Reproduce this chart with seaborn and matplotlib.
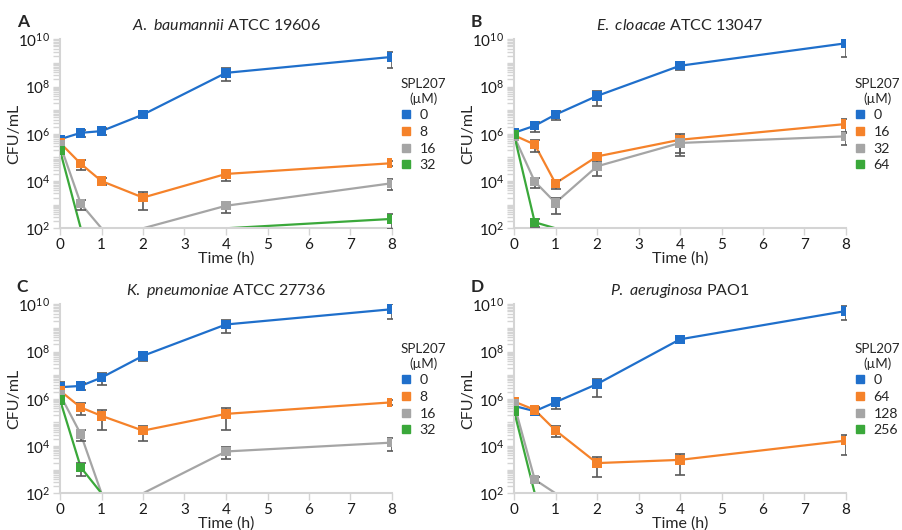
import numpy as np
import pandas as pd
import matplotlib
matplotlib.use("Agg")
import matplotlib.pyplot as plt
from matplotlib.lines import Line2D
from matplotlib.ticker import FixedLocator, NullFormatter
import seaborn as sns

nan = np.nan

# sampling times (h)
times = [0, 0.5, 1, 2, 4, 8]

# panel A: A. baumannii ATCC 19606
a_conc = ["0", "8", "16", "32"]
a_mean = [
    [5.9e5, 1.1e6, 1.3e6, 6.5e6, 3.8e8, 1.8e9],
    [4.2e5, 5.4e4, 1.0e4, 2.0e3, 2.0e4, 5.7e4],
    [3.6e5, 1.1e3, 100, 100, 9.0e2, 8.1e3],
    [2.0e5, 100, nan, nan, 100, 2.5e2],
]
a_err = [
    [1e5, 4e5, 4e5, 2e6, 2.1e8, 1.2e9],
    [5e4, 2.5e4, 3e3, 1.4e3, 1e4, 1.5e4],
    [5e4, 5e2, 0, 0, 4.5e2, 4e3],
    [5e4, 0, nan, nan, 0, 1.6e2],
]

# panel B: E. cloacae ATCC 13047
b_conc = ["0", "16", "32", "64"]
b_mean = [
    [1.1e6, 2.2e6, 6.5e6, 4.0e7, 7.6e8, 6.8e9],
    [8.7e5, 3.5e5, 8.0e3, 1.1e5, 5.6e5, 2.6e6],
    [8.0e5, 9.5e3, 1.2e3, 4.2e4, 4.1e5, 7.8e5],
    [9.5e5, 1.8e2, 100, nan, nan, nan],
]
b_err = [
    [2e5, 1e6, 2.5e6, 2.5e7, 2.5e8, 5e9],
    [1e5, 1.8e5, 3.5e3, 3e4, 4e5, 1.5e6],
    [1e5, 4.5e3, 8e2, 2.6e4, 3e5, 4.5e5],
    [1e5, 7e1, 0, nan, nan, nan],
]

# panel C: K. pneumoniae ATCC 27736
c_conc = ["0", "8", "16", "32"]
c_mean = [
    [3.1e6, 3.5e6, 7.9e6, 6.6e7, 1.4e9, 6.2e9],
    [2.2e6, 4.3e5, 1.9e5, 4.5e4, 2.3e5, 7.1e5],
    [1.5e6, 3.2e4, 100, 100, 5.9e3, 1.4e4],
    [9.0e5, 1.26e3, 100, nan, nan, nan],
]
c_err = [
    [1.9e6, 1.2e6, 4e6, 2.5e7, 8e8, 3.8e9],
    [5e5, 2.3e5, 1.4e5, 2.8e4, 1.8e5, 1.5e5],
    [3e5, 1.5e4, 0, 0, 3e3, 8e3],
    [2e5, 7e2, 0, nan, nan, nan],
]

# panel D: P. aeruginosa PAO1
d_conc = ["0", "64", "128", "256"]
d_mean = [
    [5.0e5, 3.0e5, 7.2e5, 4.2e6, 3.3e8, 5.2e9],
    [7.7e5, 3.4e5, 4.6e4, 1.9e3, 2.6e3, 1.7e4],
    [6.1e5, 3.8e2, 100, nan, nan, nan],
    [3.1e5, 100, nan, nan, nan, nan],
]
d_err = [
    [1.5e5, 1e5, 3.5e5, 3e6, 8e7, 3e9],
    [2.5e5, 1.2e5, 2.2e4, 1.4e3, 2e3, 1.3e4],
    [2e5, 1e2, 0, nan, nan, nan],
    [5e4, 0, nan, nan, nan, nan],
]

colors = ["#1f6fcb", "#f5822a", "#a5a5a5", "#3aa83a"]
detect_limit = 100

sns.set_style("white")
plt.rcParams["font.family"] = ["Lato", "DejaVu Sans"]
plt.rcParams["mathtext.fontset"] = "custom"
plt.rcParams["mathtext.rm"] = "Lato"
plt.rcParams["mathtext.it"] = "Lato:italic"


def to_frame(conc, mean, err):
    rows = []
    for label, m_row, e_row in zip(conc, mean, err):
        seg = 0
        for t, m, e in zip(times, m_row, e_row):
            if np.isnan(m):
                seg += 1
                continue
            rows.append({"time": t, "cfu": m, "err": e,
                         "conc": label, "seg": f"{label}_{seg}"})
    return pd.DataFrame(rows)


def draw_panel(ax, conc, mean, err, species, strain, letter, fig):
    df = to_frame(conc, mean, err)
    pal = dict(zip(conc, colors))

    sns.lineplot(data=df, x="time", y="cfu", hue="conc", units="seg",
                 estimator=None, palette=pal, linewidth=1.6, legend=False,
                 ax=ax, zorder=2)
    for label in conc:
        sub = df[(df.conc == label) & (df.cfu > detect_limit)]
        ax.errorbar(sub.time, sub.cfu, yerr=sub.err, fmt="none",
                    ecolor="#595959", elinewidth=1.2, capsize=3.5,
                    capthick=1.2, zorder=3)
    sns.scatterplot(data=df[df.cfu > detect_limit], x="time", y="cfu",
                    hue="conc", palette=pal, marker="s", s=46, linewidth=0,
                    legend=False, ax=ax, zorder=4)

    ax.set_yscale("log")
    ax.set_ylim(1e2, 1e10)
    ax.set_xlim(0, 8)
    ax.set_xticks(range(9))
    major = [10.0 ** k for k in range(2, 11, 2)]
    minor = [s * 10.0 ** k for k in range(2, 10) for s in range(1, 10)
             if not (s == 1 and k % 2 == 0)]
    ax.yaxis.set_major_locator(FixedLocator(major))
    ax.yaxis.set_minor_locator(FixedLocator(minor))
    ax.yaxis.set_minor_formatter(NullFormatter())
    ax.tick_params(axis="both", which="both", direction="out", length=5,
                   width=1.0, color="#d4d4d4", labelsize=11,
                   labelcolor="#1a1a1a", pad=2, left=True, bottom=True)
    ax.tick_params(axis="x", which="minor", bottom=False)
    sns.despine(ax=ax)
    for side in ["left", "bottom"]:
        ax.spines[side].set_color("#d4d4d4")
        ax.spines[side].set_linewidth(1.5)

    ax.set_xlabel("Time (h)", fontsize=11.5)
    ax.set_ylabel("CFU/mL", fontsize=11.5)
    ax.xaxis.set_label_coords(0.5, -0.12)
    ax.yaxis.set_label_coords(-0.118, 0.5)
    words = " ".join(rf"$\it{{{w}}}$" for w in species.split())
    ax.set_title(f"{words} {strain}", fontsize=11.5, pad=7)

    handles = [Line2D([], [], marker="s", linestyle="none", color=c,
                      markersize=6) for c in colors]
    leg = ax.legend(handles, conc, title="SPL207\n(µM)", loc="upper left",
                    bbox_to_anchor=(1.025, 0.795), frameon=False,
                    fontsize=10.2, title_fontsize=9.6, alignment="left",
                    handlelength=0.8, handletextpad=0.55, labelspacing=0.33,
                    borderpad=0, borderaxespad=0)
    leg.get_title().set_multialignment("center")

    pos = ax.get_position()
    fig.text(pos.x0 - 0.048, pos.y1 + 0.033, letter, fontsize=12.5,
             fontweight="bold", ha="left", va="center")


fig = plt.figure(figsize=(9.03, 5.30), dpi=100)
W, H = 903, 530
panels = [
    (60, 39.3, a_conc, a_mean, a_err, "A. baumannii", "ATCC 19606", "A"),
    (514, 39.3, b_conc, b_mean, b_err, "E. cloacae", "ATCC 13047", "B"),
    (60, 304.3, c_conc, c_mean, c_err, "K. pneumoniae", "ATCC 27736", "C"),
    (514, 304.3, d_conc, d_mean, d_err, "P. aeruginosa", "PAO1", "D"),
]
for left, top, conc, mean, err, species, strain, letter in panels:
    ax = fig.add_axes([left / W, 1 - (top + 189) / H, 332 / W, 189 / H])
    draw_panel(ax, conc, mean, err, species, strain, letter, fig)

fig.savefig("out.png", dpi=100)
